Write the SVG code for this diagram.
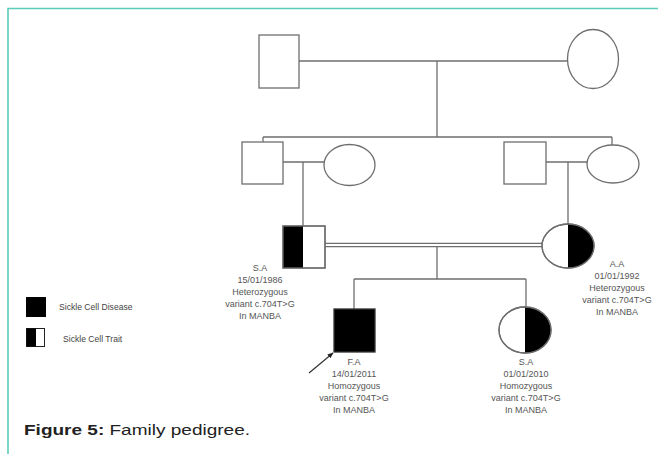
<svg xmlns="http://www.w3.org/2000/svg" width="658" height="454" viewBox="0 0 658 454">
<style>
.ln{stroke:#6e6e6e;stroke-width:1.3;fill:none}
.sym{stroke:#6e6e6e;stroke-width:1.3;fill:#fff}
.blk{fill:#000;stroke:none}
.lbl{font-family:"Liberation Sans",Arial,sans-serif;font-size:9px;fill:#555;text-anchor:middle}
.leg{font-family:"Liberation Sans",Arial,sans-serif;font-size:8.6px;fill:#444}
.cap{font-family:"Liberation Sans",Arial,sans-serif;font-size:15.5px;fill:#222}
</style>
<defs>
<marker id="ah" viewBox="0 0 10 10" refX="9" refY="5" markerWidth="5" markerHeight="5" orient="auto">
<path d="M0,1 L10,5 L0,9 z" fill="#222"/>
</marker>
</defs>
<rect width="658" height="454" fill="#fff"/>
<path d="M8,454 V8.5 H658" stroke="#5ccbb9" stroke-width="1.6" fill="none"/>

<g id="connectors">
<path class="ln" d="M299,61 H568"/>
<path class="ln" d="M437,61 V137"/>
<path class="ln" d="M263,137 H612"/>
<path class="ln" d="M263,137 V142"/>
<path class="ln" d="M612,137 V146"/>
<path class="ln" d="M283,162 H324"/>
<path class="ln" d="M303,162 V226"/>
<path class="ln" d="M546,162 H587"/>
<path class="ln" d="M568,162 V224"/>
<path class="ln" d="M325,243.3 H542"/>
<path class="ln" d="M325,246.7 H542"/>
<path class="ln" d="M437,246.7 V279"/>
<path class="ln" d="M354,279 H526"/>
<path class="ln" d="M354,279 V309"/>
<path class="ln" d="M526,279 V307"/>
<line x1="309" y1="373" x2="333" y2="353" stroke="#333" stroke-width="1.2" marker-end="url(#ah)"/>
</g>

<g id="gf1"><rect class="sym" x="259" y="35" width="40" height="53"/></g>
<g id="gm1"><ellipse class="sym" cx="593" cy="59" rx="25.5" ry="29.5"/></g>

<g id="pf"><rect class="sym" x="242" y="142" width="41" height="42"/></g>
<g id="pm"><ellipse class="sym" cx="349.5" cy="165" rx="25.5" ry="20.5"/></g>
<g id="mf"><rect class="sym" x="504" y="142" width="42" height="42"/></g>
<g id="mm"><ellipse class="sym" cx="613" cy="164" rx="26" ry="19"/></g>

<g id="father">
<rect class="sym" x="283" y="226" width="42" height="42"/>
<rect class="blk" x="283" y="226" width="20" height="42"/>
<rect x="283" y="226" width="42" height="42" fill="none" stroke="#6e6e6e" stroke-width="1.3"/>
<text class="lbl" x="260" y="271">S.A</text>
<text class="lbl" x="260" y="283">15/01/1986</text>
<text class="lbl" x="260" y="295">Heterozygous</text>
<text class="lbl" x="260" y="307">variant c.704T&gt;G</text>
<text class="lbl" x="260" y="319">In MANBA</text>
</g>

<g id="mother">
<ellipse class="sym" cx="568" cy="246" rx="26" ry="22"/>
<path class="blk" d="M568,224 A26,22 0 0 1 568,268 Z"/>
<ellipse cx="568" cy="246" rx="26" ry="22" fill="none" stroke="#6e6e6e" stroke-width="1.3"/>
<text class="lbl" x="617" y="267">A.A</text>
<text class="lbl" x="617" y="279">01/01/1992</text>
<text class="lbl" x="617" y="291">Heterozygous</text>
<text class="lbl" x="617" y="303">variant c.704T&gt;G</text>
<text class="lbl" x="617" y="315">In MANBA</text>
</g>

<g id="son">
<rect x="334" y="309" width="41" height="43" fill="#000" stroke="#333" stroke-width="1.3"/>
<text class="lbl" x="354" y="365">F.A</text>
<text class="lbl" x="354" y="377">14/01/2011</text>
<text class="lbl" x="354" y="389">Homozygous</text>
<text class="lbl" x="354" y="401">variant c.704T&gt;G</text>
<text class="lbl" x="354" y="413">In MANBA</text>
</g>

<g id="daughter">
<ellipse class="sym" cx="525" cy="330" rx="26" ry="23"/>
<path class="blk" d="M525,307 A26,23 0 0 1 525,353 Z"/>
<ellipse cx="525" cy="330" rx="26" ry="23" fill="none" stroke="#6e6e6e" stroke-width="1.3"/>
<text class="lbl" x="526" y="365">S.A</text>
<text class="lbl" x="526" y="377">01/01/2010</text>
<text class="lbl" x="526" y="389">Homozygous</text>
<text class="lbl" x="526" y="401">variant c.704T&gt;G</text>
<text class="lbl" x="526" y="413">In MANBA</text>
</g>

<g id="legend">
<rect x="26" y="297" width="20" height="20" fill="#000"/>
<text class="leg" x="59" y="310">Sickle Cell Disease</text>
<rect x="26.5" y="328.5" width="18" height="18" fill="#fff" stroke="#222" stroke-width="1"/>
<rect x="26.5" y="328.5" width="9.5" height="18" fill="#000"/>
<text class="leg" x="63" y="342">Sickle Cell Trait</text>
</g>

<text class="cap" x="24" y="435" textLength="226" lengthAdjust="spacingAndGlyphs"><tspan font-weight="bold">Figure 5:</tspan> Family pedigree.</text>
</svg>
